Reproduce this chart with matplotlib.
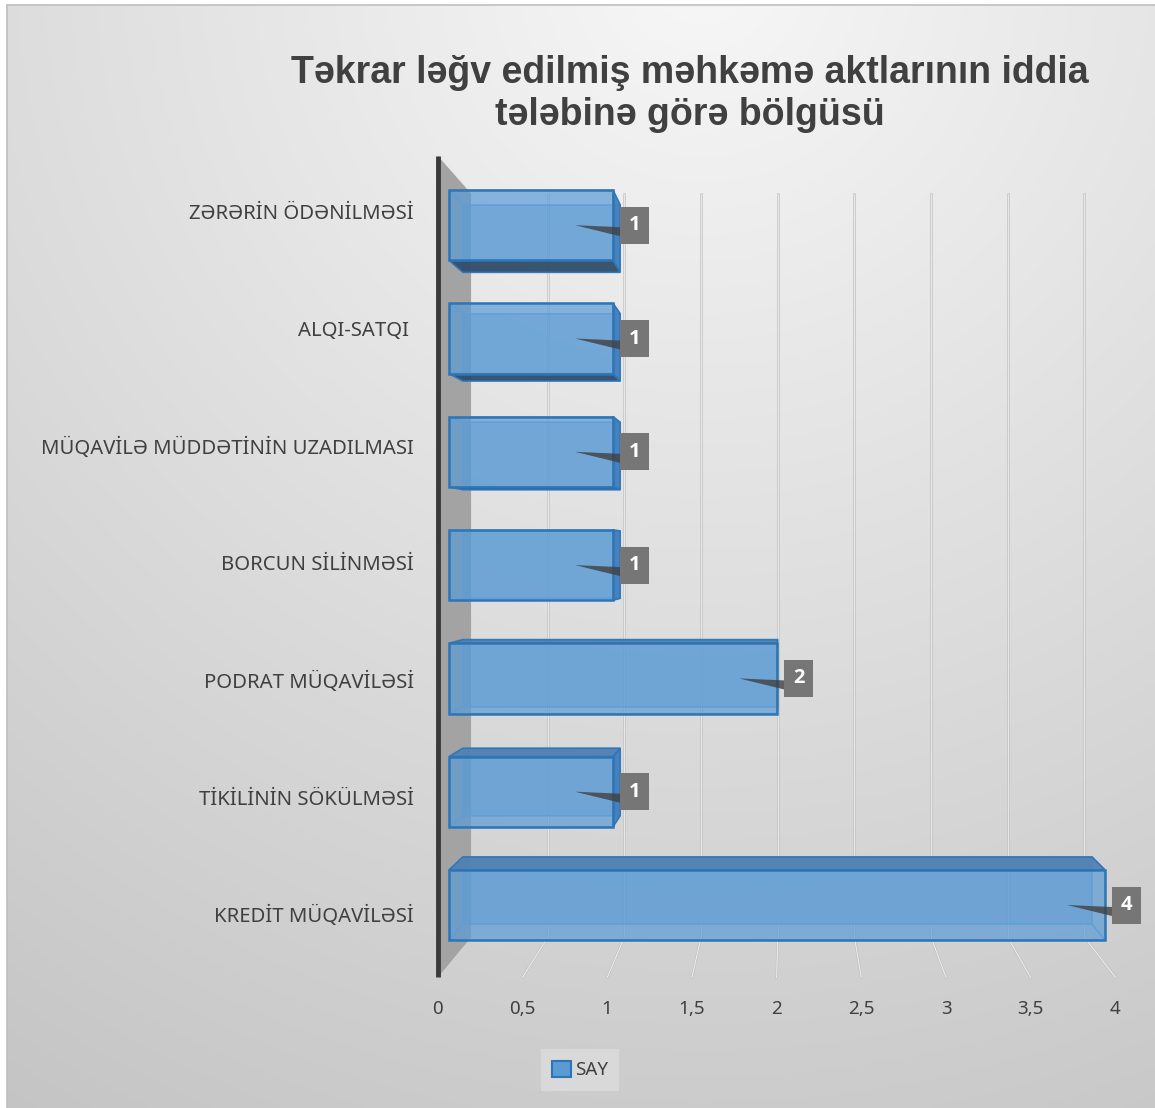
import numpy as np
import matplotlib.pyplot as plt
from matplotlib.patches import Polygon, Rectangle, Patch

# data
categories = ["KREDİT MÜQAVİLƏSİ", "TİKİLİNİN SÖKÜLMƏSİ", "PODRAT MÜQAVİLƏSİ",
              "BORCUN SİLİNMƏSİ", "MÜQAVİLƏ MÜDDƏTİNİN UZADILMASI",
              "ALQI-SATQI ", "ZƏRƏRİN ÖDƏNİLMƏSİ"]
values = [4, 1, 2, 1, 1, 1, 1]
ticks = [0, 0.5, 1, 1.5, 2, 2.5, 3, 3.5, 4]
tick_labels = ["0", "0,5", "1", "1,5", "2", "2,5", "3", "3,5", "4"]
series_name = "SAY"
title = "Təkrar ləğv edilmiş məhkəmə aktlarının iddia\ntələbinə görə bölgüsü"

W, H = 1155, 1108
fig = plt.figure(figsize=(W / 100, H / 100), dpi=100)
fig.patch.set_facecolor("white")
sans = ["Noto Sans", "DejaVu Sans"]

# background with soft radial gradient
bg = fig.add_axes([7 / W, 0, 1 - 7 / W, 1 - 5 / H], zorder=0)
gy, gx = np.mgrid[5:H:4, 7:W:4]
r = np.hypot(gx - 700, gy + 30)
g = np.clip(247 - 0.038 * r, 190, 247) / 255.0
bg.imshow(np.dstack([g, g, g]), aspect="auto", extent=(0, 1, 0, 1), interpolation="bilinear")
bg.set_xticks([])
bg.set_yticks([])
for s in ["right", "bottom"]:
    bg.spines[s].set_visible(False)
for s in ["left", "top"]:
    bg.spines[s].set_color("#bfbfbf")
    bg.spines[s].set_linewidth(1.2)

# main axes in "front plane" value/category units
ax = fig.add_axes([0, 0, 1, 1], zorder=1)
ax.patch.set_alpha(0)
XU, YU = 164.0, 113.3
ax.set_xlim(-449 / XU, (W - 449) / XU)
ax.set_ylim((905 - H) / YU, 905 / YU)
ax.axis("off")

# simple perspective: shift towards a vanishing point by depth factor k
VX, VY = 2.07, 3.1
K_FRONT, K_BACK = -0.033, 0.065   # floor front edge / back wall
K_BAR = 0.041                     # bar depth
C_LO, C_HI = -0.52, 6.5


def P(v, c, k):
    return (v + k * (VX - v), c + k * (VY - c))


txt = "#404040"

# side wall
wall = [P(0, C_HI, K_FRONT), P(0, C_HI, K_BACK), P(0, C_LO, K_BACK), P(0, C_LO, K_FRONT)]
ax.add_patch(Polygon(wall, closed=True, facecolor="#a3a3a3", edgecolor="none", zorder=2))
x0, y0 = P(0, C_HI, K_FRONT)
x1, y1 = P(0, C_LO, K_FRONT)
ax.plot([x0, x1], [y0, y1], color="#3a3a3a", lw=3.5, solid_capstyle="butt", zorder=3)

# back wall gridlines and floor lines
for t in ticks[1:]:
    a = P(t, C_LO, K_BACK)
    b = P(t, C_HI, K_BACK)
    f = P(t, C_LO, K_FRONT)
    ax.plot([a[0], b[0]], [a[1], b[1]], color="#c4c4c4", lw=1.8, zorder=1.5)
    ax.plot([a[0], b[0]], [a[1], b[1]], color="#efefef", lw=0.6, zorder=1.6)
    ax.plot([a[0], f[0]], [a[1], f[1]], color="#c4c4c4", lw=1.8, zorder=1.5)
    ax.plot([a[0], f[0]], [a[1], f[1]], color="#f4f4f4", lw=0.6, zorder=1.6)

# tick labels along the floor front edge
for t, lab in zip(ticks, tick_labels):
    x, y = P(t, C_LO, K_FRONT)
    ax.annotate(lab, (x, y), xytext=(0, -23), textcoords="offset points",
                ha="center", va="center", fontsize=13.5, color=txt, family=sans)

# category labels
for i, cat in enumerate(categories):
    x, y = P(-0.14, i, K_FRONT)
    ax.text(x, y, cat, ha="right", va="center", fontsize=14.6, color=txt, family=sans)

# bars
blue = "#5b9bd5"
edge = "#2e75b6"
h = 0.31
for i, val in enumerate(values):
    lo, hi = i - h, i + h
    fr = [(0, lo), (val, lo), (val, hi), (0, hi)]
    bk = [P(v, c, K_BAR) for v, c in fr]
    ax.add_patch(Polygon(bk, closed=True, facecolor=blue, alpha=0.45,
                         edgecolor="#6aa6dc", lw=1.2, zorder=4))
    # faces: bottom, right, top, left
    faces = {
        "bottom": [fr[0], fr[1], bk[1], bk[0]],
        "right": [fr[1], fr[2], bk[2], bk[1]],
        "top": [fr[3], fr[2], bk[2], bk[3]],
        "left": [fr[0], fr[3], bk[3], bk[0]],
    }
    vis = {"bottom": lo > VY, "top": hi < VY, "right": val < VX, "left": False}
    shade = {"bottom": "#2f4b68", "top": "#4f80b2", "right": "#3f7cbc", "left": blue}
    for name, poly in faces.items():
        if vis[name]:
            ax.add_patch(Polygon(poly, closed=True, facecolor=shade[name], alpha=0.92,
                                 edgecolor=edge, lw=1.2, zorder=5))
        else:
            ax.add_patch(Polygon(poly, closed=True, facecolor="none",
                                 edgecolor="#6aa6dc", lw=1.0, alpha=0.8, zorder=4.5))
    ax.add_patch(Polygon(fr, closed=True, facecolor=blue, alpha=0.7,
                         edgecolor="none", zorder=6))
    ax.add_patch(Polygon(fr, closed=True, facecolor="none",
                         edgecolor=edge, lw=1.8, zorder=6.5))

    # data label with callout
    bx = val + 7 / XU
    bw, bh = 29 / XU, 37 / YU
    ax.add_patch(Polygon([(val - 38 / XU, i), (bx, i - 2 / YU), (bx, i - 11 / YU)],
                         closed=True, facecolor="#404040", alpha=0.8, edgecolor="none", zorder=7))
    ax.add_patch(Rectangle((bx, i - bh / 2), bw, bh, facecolor="#767676",
                           edgecolor="none", zorder=7.5))
    ax.text(bx + bw / 2, i, str(val), ha="center", va="center", fontsize=14.5,
            fontweight="bold", color="white", family=["Open Sans", "DejaVu Sans"], zorder=8)

# title
fig.text(690 / W, 1 - 94 / H, title, ha="center", va="center", fontsize=27,
         fontweight="bold", color=txt, family="Liberation Sans", linespacing=1.2)

# legend
leg = ax.legend(handles=[Patch(facecolor=blue, edgecolor=edge, lw=1.5, label=series_name)],
                loc="center", bbox_to_anchor=(580 / W, 1 - 1070 / H),
                bbox_transform=fig.transFigure, fancybox=False, framealpha=1,
                facecolor="#d9d9d9", edgecolor="none", handlelength=1.0,
                handleheight=1.0, handletextpad=0.25, borderpad=0.6,
                prop={"family": sans, "size": 13.5})
for t in leg.get_texts():
    t.set_color(txt)

fig.savefig("out.png", dpi=100)
